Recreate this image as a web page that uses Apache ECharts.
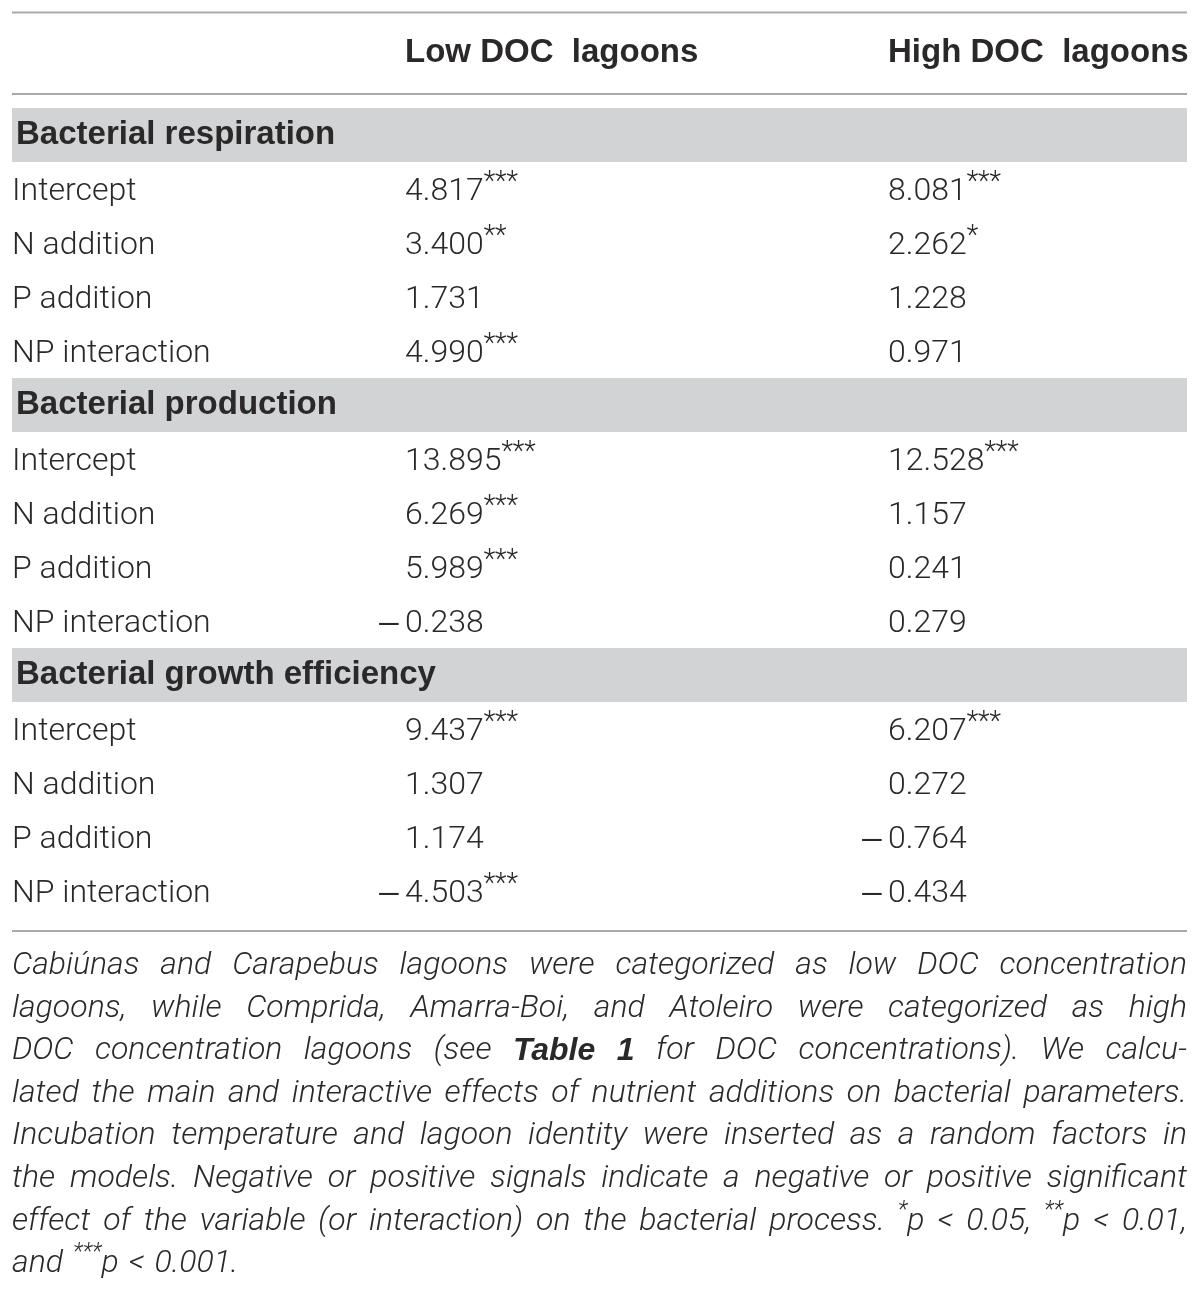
<!DOCTYPE html>
<html>
<head>
<meta charset="utf-8">
<script src="https://cdn.jsdelivr.net/npm/echarts@6/dist/echarts.min.js"></script>
<style>
  html, body { margin: 0; padding: 0; background: #ffffff; }
  #chart { width: 1200px; height: 1292px; }
</style>
</head>
<body>
<div id="chart"></div>
<script>
// table content
const columns = ['Low DOC  lagoons', 'High DOC  lagoons']
const sections = ['Bacterial respiration', 'Bacterial production', 'Bacterial growth efficiency']
const terms = ['Intercept', 'N addition', 'P addition', 'NP interaction']
const lowValues = [
  [4.817, 3.400, 1.731, 4.990],
  [13.895, 6.269, 5.989, -0.238],
  [9.437, 1.307, 1.174, -4.503],
]
const lowStars = [
  [3, 2, 0, 3],
  [3, 3, 3, 0],
  [3, 0, 0, 3],
]
const highValues = [
  [8.081, 2.262, 1.228, 0.971],
  [12.528, 1.157, 0.241, 0.279],
  [6.207, 0.272, -0.764, -0.434],
]
const highStars = [
  [3, 1, 0, 0],
  [3, 0, 0, 0],
  [3, 0, 0, 0],
]
// footnote lines, as broken in the original ({b|..} bold, {s|..} superscript)
const footLines = [
  'Cabiúnas and Carapebus lagoons were categorized as low DOC concentration',
  'lagoons, while Comprida, Amarra-Boi, and Atoleiro were categorized as high',
  'DOC concentration lagoons (see {b|Table} {b|1} for DOC concentrations). We calcu-',
  'lated the main and interactive effects of nutrient additions on bacterial parameters.',
  'Incubation temperature and lagoon identity were inserted as a random factors in',
  'the models. Negative or positive signals indicate a negative or positive significant',
  'effect of the variable (or interaction) on the bacterial process. {s|*}p < 0.05, {s|**}p < 0.01,',
  'and {s|***}p < 0.001.',
]

/** layout */
const W = 1200
const LEFT = 12, RIGHT = 1187
const COL_X = [LEFT, 405, 888]
const TEXT = '#2b2829'
const BAND = '#d1d3d4'
const RULE = '#a7a9ac'
const FAMILY = 'Roboto, "Liberation Sans", sans-serif'
const BOLD_FAMILY = '"Liberation Sans", Arial, sans-serif'
const BODY_SIZE = 32, BOLD_SIZE = 33, SUP_SIZE = 27, FOOT_SIZE = 32, FOOT_SUP = 23

// rows of the body: a section header followed by its terms
const rows = []
sections.forEach((s, si) => {
  rows.push({kind: 'section', label: s})
  terms.forEach((t, ti) => {
    rows.push({
      kind: 'term', label: t,
      cells: [
        {v: lowValues[si][ti], stars: lowStars[si][ti]},
        {v: highValues[si][ti], stars: highStars[si][ti]},
      ],
    })
  })
})

const bodyRich = {
  n: {fontSize: BODY_SIZE, fontFamily: FAMILY, fontWeight: 300, fill: TEXT, lineHeight: 38, verticalAlign: 'bottom'},
  s: {fontSize: SUP_SIZE, fontFamily: FAMILY, fontWeight: 300, fill: TEXT, verticalAlign: 'top', lineHeight: 30},
}

function cellText(x, y, cell) {
  const out = []
  const num = Math.abs(cell.v).toFixed(3)
  const stars = cell.stars ? '{s|' + '*'.repeat(cell.stars) + '}' : ''
  out.push({
    type: 'text',
    style: {text: '{n|' + num + '}' + stars, x: x, y: y, align: 'left', verticalAlign: 'middle', rich: bodyRich},
  })
  if (cell.v < 0) {
    // the minus hangs left of the column
    out.push({
      type: 'text',
      style: {text: '\u2013', x: x - 3, y: y + 8, align: 'right', verticalAlign: 'middle',
        fontSize: 40, fontFamily: FAMILY, fontWeight: 300, fill: TEXT},
    })
  }
  return out
}

function renderRow(params, api) {
  const i = api.value(0)
  const row = rows[i]
  const y = api.coord([0, i])[1]
  const band = api.size([0, 1])[1]
  const xs = COL_X.map(c => api.coord([c, i])[0])
  if (row.kind === 'section') {
    const x1 = api.coord([RIGHT, i])[0]
    return {
      type: 'group',
      children: [
        {type: 'rect', shape: {x: xs[0], y: y - band / 2, width: x1 - xs[0], height: band}, style: {fill: BAND}},
        {type: 'text', style: {text: row.label, x: xs[0] + 4, y: y, align: 'left', verticalAlign: 'middle',
          fontSize: BOLD_SIZE, fontFamily: BOLD_FAMILY, fontWeight: 'bold', fill: TEXT}},
      ],
    }
  }
  const children = [
    {type: 'text', style: {text: '{n|' + row.label + '}', x: xs[0], y: y, align: 'left', verticalAlign: 'middle', rich: bodyRich}},
  ]
  row.cells.forEach((c, k) => children.push(...cellText(xs[k + 1], y, c)))
  return {type: 'group', children}
}

// footnote: justified lines, words placed one by one
const ctx = document.createElement('canvas').getContext('2d')
const fonts = {
  n: 'italic 300 ' + FOOT_SIZE + 'px ' + FAMILY,
  b: 'italic bold ' + FOOT_SIZE + 'px ' + BOLD_FAMILY,
  s: 'italic 300 ' + FOOT_SUP + 'px ' + FAMILY,
}
function wordWidth(word) {
  let w = 0
  const re = /\{(\w)\|([^}]*)\}|([^{]+)/g
  let m
  while ((m = re.exec(word))) {
    ctx.font = fonts[m[1] || 'n']
    w += ctx.measureText(m[1] ? m[2] : m[3]).width
  }
  return w
}
function richWord(word) {
  return word.replace(/([^{}|]+)(?![^{]*\})/g, '{n|$1}')
}
const footRich = {
  n: {fontSize: FOOT_SIZE, fontFamily: FAMILY, fontWeight: 300, fontStyle: 'italic', fill: TEXT, lineHeight: 38, verticalAlign: 'bottom'},
  b: {fontSize: FOOT_SIZE, fontFamily: BOLD_FAMILY, fontWeight: 'bold', fontStyle: 'italic', fill: TEXT, lineHeight: 38, verticalAlign: 'bottom'},
  s: {fontSize: FOOT_SUP, fontFamily: FAMILY, fontWeight: 300, fontStyle: 'italic', fill: TEXT, verticalAlign: 'top', lineHeight: 26},
}
const FOOT_TOP = 963, FOOT_STEP = 42.6
const footGraphics = []
footLines.forEach((line, li) => {
  const words = line.split(' ')
  const widths = words.map(wordWidth)
  const total = widths.reduce((a, b) => a + b, 0)
  const last = li === footLines.length - 1
  ctx.font = fonts.n
  const gap = last ? ctx.measureText(' ').width * 1.3 : (RIGHT - LEFT - total) / (words.length - 1)
  let x = LEFT
  const y = FOOT_TOP + li * FOOT_STEP
  words.forEach((w, k) => {
    footGraphics.push({
      type: 'text', x: x, y: y,
      style: {text: richWord(w), align: 'left', verticalAlign: 'middle', rich: footRich},
    })
    x += widths[k] + gap
  })
})

const chart = echarts.init(document.getElementById('chart'), null, {renderer: 'canvas'})
chart.setOption({
  backgroundColor: '#ffffff',
  animation: false,
  grid: {left: 0, right: 0, top: 108, height: 810},
  xAxis: {type: 'value', min: 0, max: W, show: false},
  yAxis: {type: 'category', inverse: true, show: false, boundaryGap: true, data: rows.map((r, i) => String(i))},
  series: [{
    type: 'custom',
    renderItem: renderRow,
    data: rows.map((r, i) => [i]),
    encode: {y: 0},
    silent: true,
  }],
  graphic: [
    /** rules */
    {type: 'line', shape: {x1: LEFT, y1: 12.5, x2: RIGHT, y2: 12.5}, style: {stroke: RULE, lineWidth: 2}},
    {type: 'line', shape: {x1: LEFT, y1: 94, x2: RIGHT, y2: 94}, style: {stroke: RULE, lineWidth: 2}},
    {type: 'line', shape: {x1: LEFT, y1: 931, x2: RIGHT, y2: 931}, style: {stroke: RULE, lineWidth: 2}},
    /** column headers */
    ...columns.map((c, k) => ({
      type: 'text', x: COL_X[k + 1], y: 53,
      style: {text: c, align: 'left', verticalAlign: 'middle', fontSize: BOLD_SIZE, fontFamily: BOLD_FAMILY, fontWeight: 'bold', fill: TEXT},
    })),
    ...footGraphics,
  ],
})
</script>
</body>
</html>
